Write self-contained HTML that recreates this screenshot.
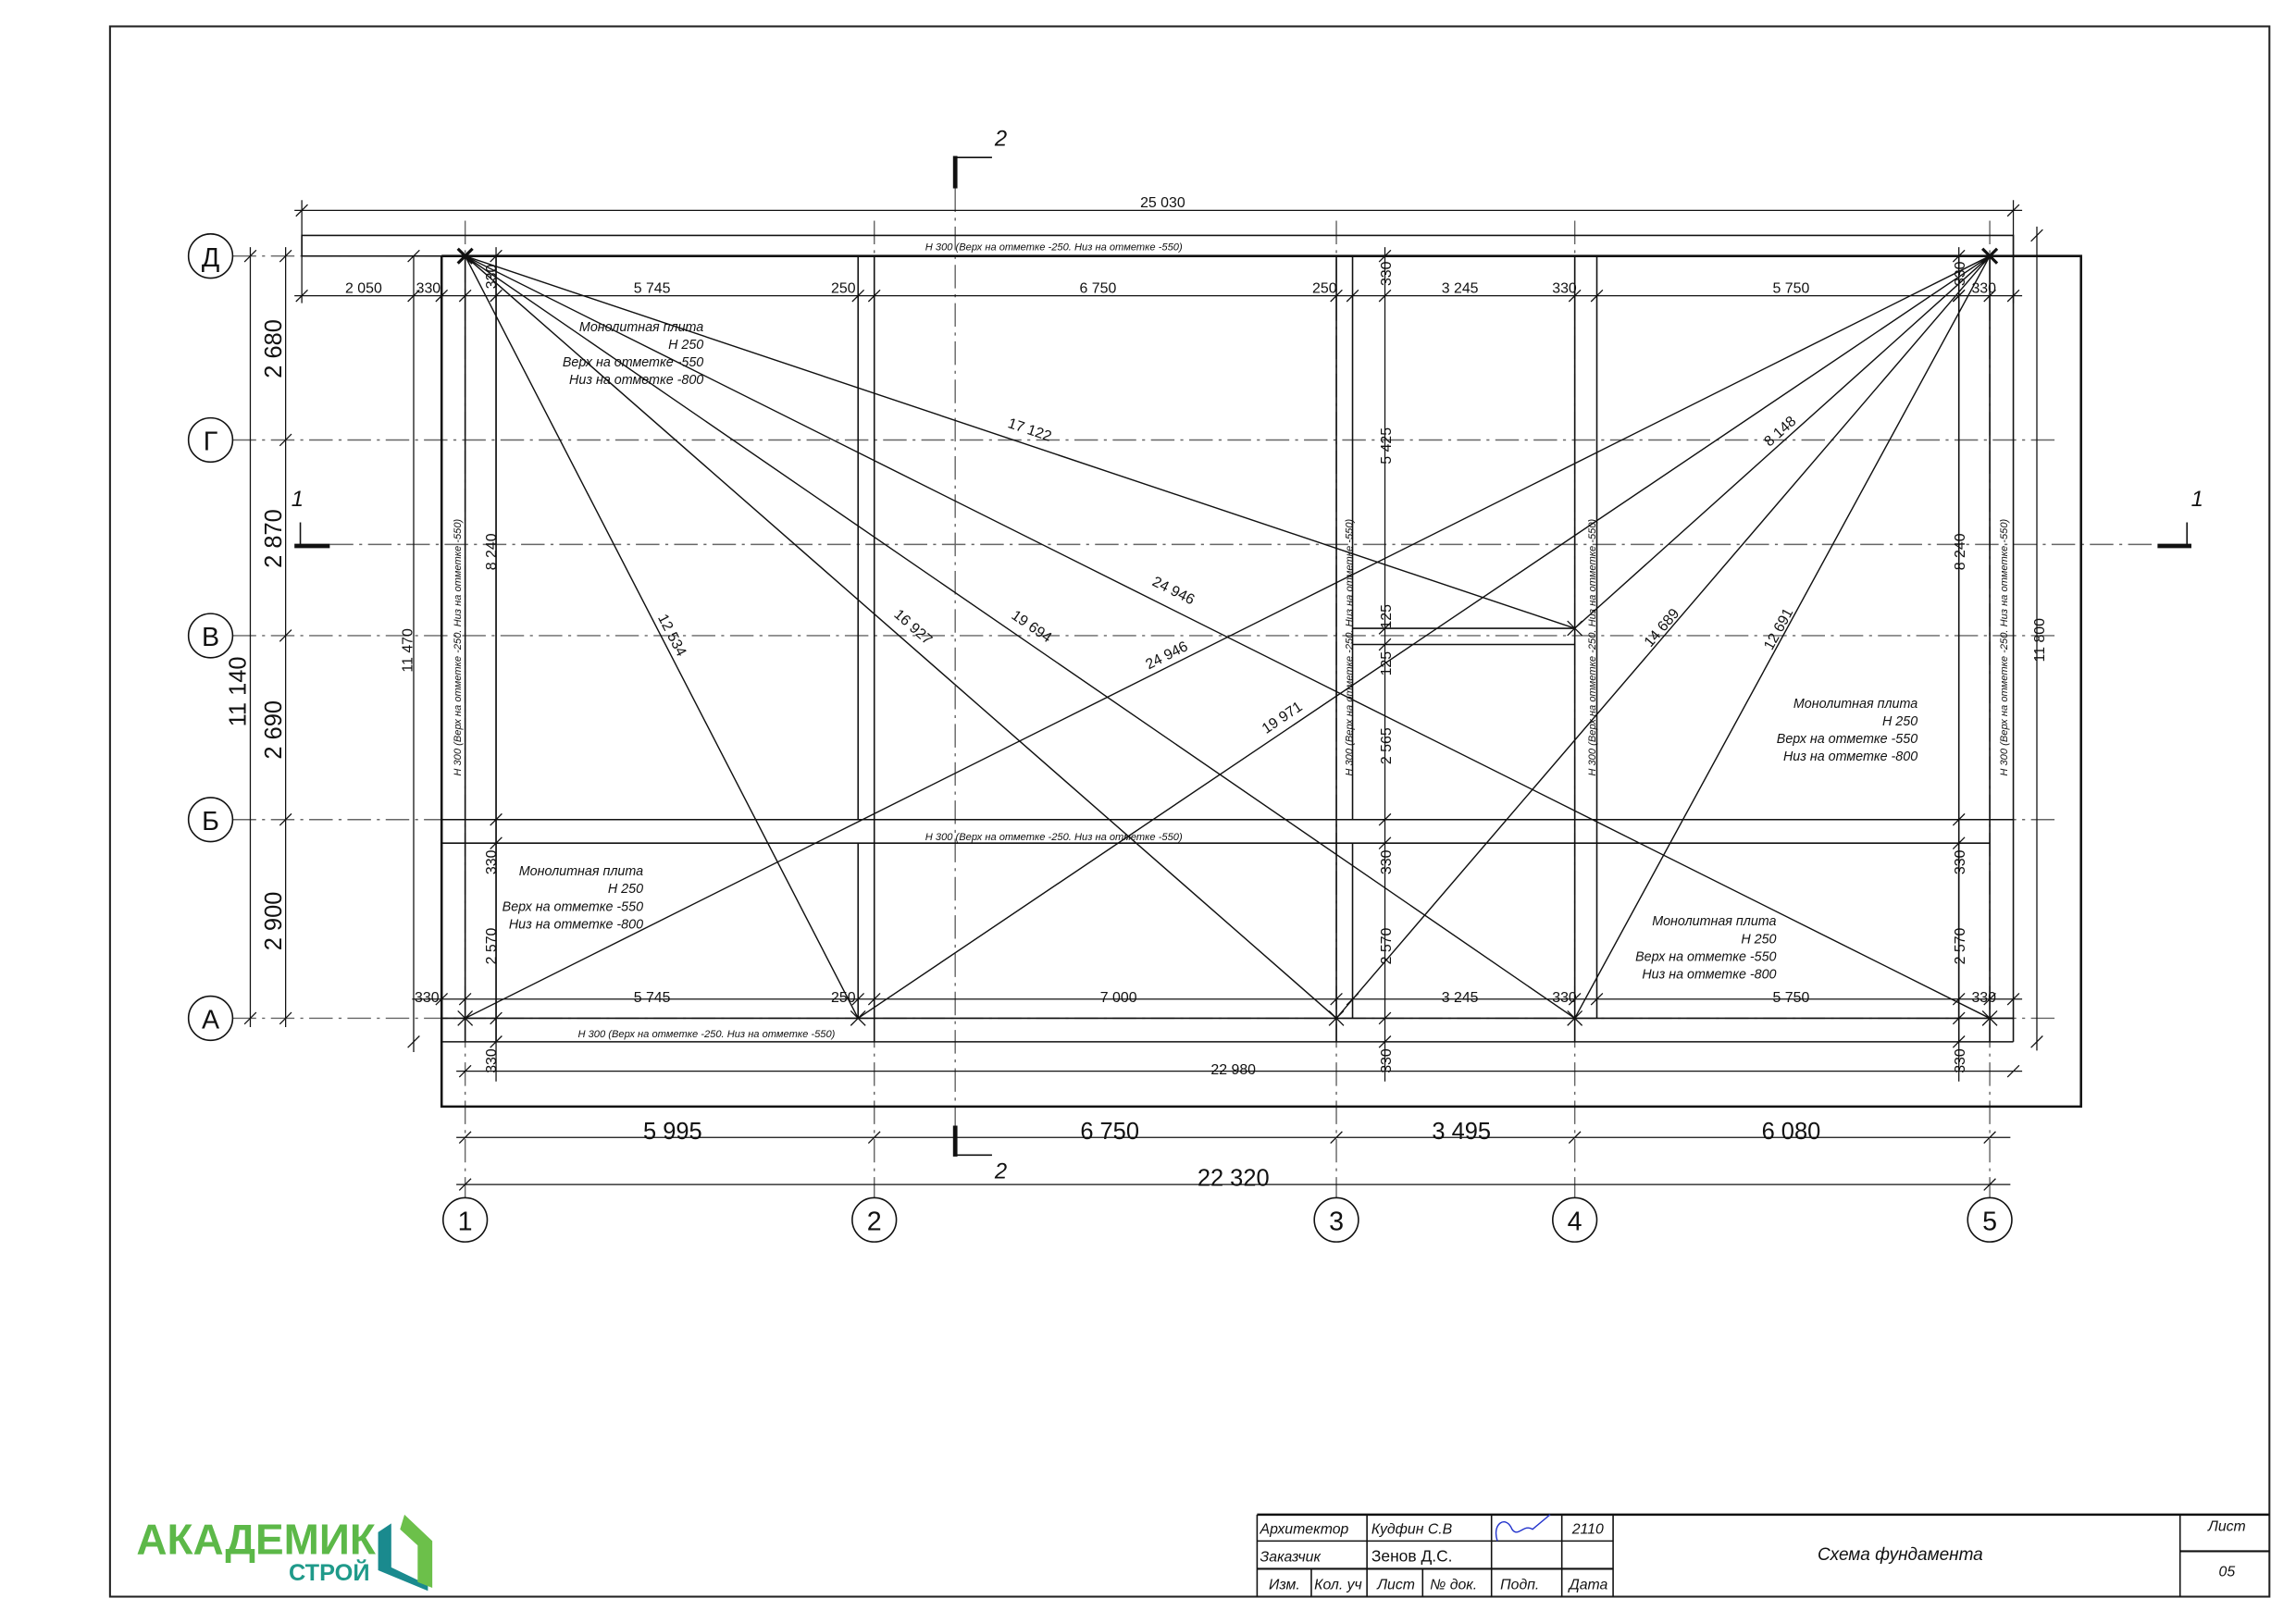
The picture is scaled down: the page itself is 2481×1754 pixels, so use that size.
<!DOCTYPE html>
<html><head><meta charset="utf-8"><style>
html,body{margin:0;padding:0;background:#fff}
svg{display:block}
text{font-family:"Liberation Sans",sans-serif;fill:#111}
.d{font-size:10px}
.i{font-size:9px;font-style:italic}
.s{font-size:7px;font-style:italic}
.b{font-size:16px}
</style></head><body>
<svg width="2481" height="1754" viewBox="0 0 1560 1103" xmlns="http://www.w3.org/2000/svg">
<rect x="0" y="0" width="1560" height="1103" fill="#fff"/>

<!-- axis dash-dot lines -->
<g stroke="#666" stroke-width="0.9" stroke-dasharray="16 4 2 4" fill="none">
<line x1="158" y1="174" x2="1400" y2="174"/>
<line x1="158" y1="299" x2="1400" y2="299"/>
<line x1="158" y1="432" x2="1400" y2="432"/>
<line x1="158" y1="557" x2="1400" y2="557"/>
<line x1="158" y1="692" x2="1400" y2="692"/>
<line x1="316" y1="150" x2="316" y2="815"/>
<line x1="594" y1="150" x2="594" y2="815"/>
<line x1="908" y1="150" x2="908" y2="815"/>
<line x1="1070" y1="150" x2="1070" y2="815"/>
<line x1="1352" y1="150" x2="1352" y2="815"/>
<line x1="224" y1="370" x2="1466" y2="370"/>
<line x1="649" y1="128" x2="649" y2="765"/>
</g>

<!-- structure -->
<g stroke="#111" stroke-width="1" fill="none">
<rect x="205" y="160" width="1163" height="14"/>
<polyline points="300,174 1414,174 1414,752 300,752 300,174" stroke-width="1.6"/>
<line x1="316" y1="174" x2="316" y2="708"/>
<line x1="337" y1="174" x2="337" y2="708"/>
<line x1="583" y1="174" x2="583" y2="557"/>
<line x1="594" y1="174" x2="594" y2="708"/>
<line x1="908" y1="174" x2="908" y2="708"/>
<line x1="919" y1="174" x2="919" y2="557"/>
<line x1="1070" y1="174" x2="1070" y2="708"/>
<line x1="1085" y1="174" x2="1085" y2="692"/>
<line x1="1331" y1="174" x2="1331" y2="708"/>
<line x1="1352" y1="174" x2="1352" y2="708"/>
<line x1="1368" y1="174" x2="1368" y2="708"/>
<line x1="300" y1="557" x2="1368" y2="557"/>
<line x1="300" y1="573" x2="1352" y2="573"/>
<line x1="300" y1="692" x2="1368" y2="692"/>
<line x1="300" y1="708" x2="1368" y2="708"/>
<line x1="919" y1="427" x2="1070" y2="427"/>
<line x1="919" y1="438" x2="1070" y2="438"/>
<line x1="583" y1="573" x2="583" y2="692"/>
<line x1="919" y1="573" x2="919" y2="692"/>
<line x1="1331" y1="573" x2="1331" y2="692"/>
</g>

<!-- diagonals -->
<g stroke="#111" stroke-width="0.9">
<line x1="316" y1="174" x2="583" y2="692"/>
<line x1="316" y1="174" x2="908" y2="692"/>
<line x1="316" y1="174" x2="1070" y2="692"/>
<line x1="316" y1="174" x2="1352" y2="692"/>
<line x1="316" y1="174" x2="1070" y2="427"/>
<line x1="1352" y1="174" x2="316" y2="692"/>
<line x1="1352" y1="174" x2="583" y2="692"/>
<line x1="1352" y1="174" x2="908" y2="692"/>
<line x1="1352" y1="174" x2="1070" y2="692"/>
<line x1="1352" y1="174" x2="1070" y2="427"/>
</g>
<g stroke="#111" stroke-width="2">
<line x1="311" y1="169" x2="321" y2="179"/><line x1="311" y1="179" x2="321" y2="169"/>
<line x1="1347" y1="169" x2="1357" y2="179"/><line x1="1347" y1="179" x2="1357" y2="169"/>
</g>
<g stroke="#111" stroke-width="0.8">
<line x1="311" y1="687" x2="321" y2="697"/><line x1="311" y1="697" x2="321" y2="687"/>
<line x1="578" y1="687" x2="588" y2="697"/><line x1="578" y1="697" x2="588" y2="687"/>
<line x1="903" y1="687" x2="913" y2="697"/><line x1="903" y1="697" x2="913" y2="687"/>
<line x1="1065" y1="687" x2="1075" y2="697"/><line x1="1065" y1="697" x2="1075" y2="687"/>
<line x1="1347" y1="687" x2="1357" y2="697"/><line x1="1347" y1="697" x2="1357" y2="687"/>
<line x1="1065" y1="422" x2="1075" y2="432"/><line x1="1065" y1="432" x2="1075" y2="422"/>
</g>

<!-- diagonal labels -->
<g class="d" text-anchor="middle">
<text transform="translate(452,434) rotate(62.7)" dy="-2">12 534</text>
<text transform="translate(617,430) rotate(41.2)" dy="-2">16 927</text>
<text transform="translate(698,430) rotate(34.5)" dy="-2">19 694</text>
<text transform="translate(795,406) rotate(26.6)" dy="-2">24 946</text>
<text transform="translate(698,297) rotate(18.5)" dy="-2">17 122</text>
<text transform="translate(795,450) rotate(-26.6)" dy="-2">24 946</text>
<text transform="translate(874,492) rotate(-34)" dy="-2">19 971</text>
<text transform="translate(1133,430) rotate(-49.4)" dy="-2">14 689</text>
<text transform="translate(1213,430) rotate(-61.4)" dy="-2">12 691</text>
<text transform="translate(1213,297) rotate(-41.9)" dy="-2">8 148</text>
</g>

<!-- dimension lines -->
<g stroke="#111" stroke-width="0.8" fill="none">
<line x1="200" y1="143" x2="1374" y2="143"/>
<line x1="200" y1="201" x2="1374" y2="201"/>
<line x1="280" y1="679" x2="1374" y2="679"/>
<line x1="310" y1="728" x2="1374" y2="728"/>
<line x1="310" y1="773" x2="1366" y2="773"/>
<line x1="310" y1="805" x2="1366" y2="805"/>
<line x1="170" y1="168" x2="170" y2="698"/>
<line x1="194" y1="168" x2="194" y2="698"/>
<line x1="281" y1="174" x2="281" y2="715"/>
<line x1="1384" y1="154" x2="1384" y2="714"/>
<line x1="941" y1="168" x2="941" y2="735"/>
<line x1="337" y1="168" x2="337" y2="735"/>
<line x1="1331" y1="168" x2="1331" y2="735"/>
<line x1="205" y1="136" x2="205" y2="206"/>
<line x1="1368" y1="136" x2="1368" y2="206"/>
</g>
<g stroke="#111" stroke-width="0.8">
<path d="M201 147L209 139M1364 147L1372 139"/>
<path d="M201 205L209 197M277 205L285 197M296 205L304 197M312 205L320 197M579 205L587 197M590 205L598 197M904 205L912 197M915 205L923 197M1066 205L1074 197M1081 205L1089 197M1327 205L1335 197M1348 205L1356 197M1364 205L1372 197"/>
<path d="M296 683L304 675M312 683L320 675M579 683L587 675M590 683L598 675M904 683L912 675M915 683L923 675M1066 683L1074 675M1081 683L1089 675M1327 683L1335 675M1348 683L1356 675M1364 683L1372 675"/>
<path d="M312 732L320 724M1364 732L1372 724M312 777L320 769M590 777L598 769M904 777L912 769M1066 777L1074 769M1348 777L1356 769M312 809L320 801M1348 809L1356 801"/>
<path d="M166 178L174 170M166 696L174 688M190 178L198 170M190 303L198 295M190 436L198 428M190 561L198 553M190 696L198 688M277 178L285 170M277 712L285 704M1380 164L1388 156M1380 712L1388 704"/>
<path d="M937 178L945 170M937 205L945 197M937 431L945 423M937 442L945 434M937 561L945 553M937 577L945 569M937 696L945 688M937 712L945 704"/>
<path d="M333 178L341 170M333 205L341 197M333 561L341 553M333 577L341 569M333 696L341 688M333 712L341 704"/>
<path d="M1327 178L1335 170M1327 205L1335 197M1327 561L1335 553M1327 577L1335 569M1327 696L1335 688M1327 712L1335 704"/>
</g>

<!-- dim texts -->
<g class="d" text-anchor="middle">
<text x="790" y="141">25 030</text>
<text x="247" y="199">2 050</text><text x="291" y="199">330</text>
<text x="443" y="199">5 745</text><text x="573" y="199">250</text>
<text x="746" y="199">6 750</text><text x="900" y="199">250</text>
<text x="992" y="199">3 245</text><text x="1063" y="199">330</text>
<text x="1217" y="199">5 750</text><text x="1348" y="199">330</text>
<text x="290" y="681">330</text><text x="443" y="681">5 745</text>
<text x="573" y="681">250</text><text x="760" y="681">7 000</text>
<text x="992" y="681">3 245</text><text x="1063" y="681">330</text>
<text x="1217" y="681">5 750</text><text x="1348" y="681">330</text>
<text x="838" y="730">22 980</text>
</g>
<g class="b" text-anchor="middle">
<text x="457" y="774">5 995</text><text x="754" y="774">6 750</text>
<text x="993" y="774">3 495</text><text x="1217" y="774">6 080</text>
<text x="838" y="806">22 320</text>
</g>
<g class="b" text-anchor="middle">
<text transform="translate(191,237) rotate(-90)">2 680</text>
<text transform="translate(191,366) rotate(-90)">2 870</text>
<text transform="translate(191,496) rotate(-90)">2 690</text>
<text transform="translate(191,626) rotate(-90)">2 900</text>
<text transform="translate(167,470) rotate(-90)">11 140</text>
</g>
<g class="d" text-anchor="middle">
<text transform="translate(280,442) rotate(-90)">11 470</text>
<text transform="translate(1389,435) rotate(-90)">11 800</text>
<text transform="translate(337,375) rotate(-90)">8 240</text>
<text transform="translate(1335,375) rotate(-90)">8 240</text>
<text transform="translate(945,303) rotate(-90)">5 425</text>
<text transform="translate(945,419) rotate(-90)">125</text>
<text transform="translate(945,451) rotate(-90)">125</text>
<text transform="translate(945,507) rotate(-90)">2 565</text>
<text transform="translate(337,188) rotate(-90)">330</text>
<text transform="translate(945,186) rotate(-90)">330</text>
<text transform="translate(1335,186) rotate(-90)">330</text>
<text transform="translate(337,586) rotate(-90)">330</text>
<text transform="translate(945,586) rotate(-90)">330</text>
<text transform="translate(1335,586) rotate(-90)">330</text>
<text transform="translate(337,643) rotate(-90)">2 570</text>
<text transform="translate(945,643) rotate(-90)">2 570</text>
<text transform="translate(1335,643) rotate(-90)">2 570</text>
<text transform="translate(337,721) rotate(-90)">330</text>
<text transform="translate(945,721) rotate(-90)">330</text>
<text transform="translate(1335,721) rotate(-90)">330</text>
</g>

<!-- beam labels -->
<g class="s" text-anchor="middle">
<text x="716" y="170">Н 300 (Верх на отметке -250. Низ на отметке -550)</text>
<text x="716" y="571">Н 300 (Верх на отметке -250. Низ на отметке -550)</text>
<text x="480" y="705">Н 300 (Верх на отметке -250. Низ на отметке -550)</text>
<text transform="translate(313,440) rotate(-90)">Н 300 (Верх на отметке -250. Низ на отметке -550)</text>
<text transform="translate(919,440) rotate(-90)">Н 300 (Верх на отметке -250. Низ на отметке -550)</text>
<text transform="translate(1084,440) rotate(-90)">Н 300 (Верх на отметке -250. Низ на отметке -550)</text>
<text transform="translate(1364,440) rotate(-90)">Н 300 (Верх на отметке -250. Низ на отметке -550)</text>
</g>

<!-- slab notes -->
<g class="i" text-anchor="end">
<text x="478" y="225">Монолитная плита</text><text x="478" y="237">Н 250</text>
<text x="478" y="249">Верх на отметке -550</text><text x="478" y="261">Низ на отметке -800</text>
<text x="437" y="595">Монолитная плита</text><text x="437" y="607">Н 250</text>
<text x="437" y="619">Верх на отметке -550</text><text x="437" y="631">Низ на отметке -800</text>
<text x="1303" y="481">Монолитная плита</text><text x="1303" y="493">Н 250</text>
<text x="1303" y="505">Верх на отметке -550</text><text x="1303" y="517">Низ на отметке -800</text>
<text x="1207" y="629">Монолитная плита</text><text x="1207" y="641">Н 250</text>
<text x="1207" y="653">Верх на отметке -550</text><text x="1207" y="665">Низ на отметке -800</text>
</g>

<!-- axis bubbles -->
<g fill="#fff" stroke="#111" stroke-width="1">
<circle cx="143" cy="174" r="15"/><circle cx="143" cy="299" r="15"/>
<circle cx="143" cy="432" r="15"/><circle cx="143" cy="557" r="15"/>
<circle cx="143" cy="692" r="15"/>
<circle cx="316" cy="829" r="15"/><circle cx="594" cy="829" r="15"/>
<circle cx="908" cy="829" r="15"/><circle cx="1070" cy="829" r="15"/>
<circle cx="1352" cy="829" r="15"/>
</g>
<g font-size="18" text-anchor="middle">
<text x="143" y="181">Д</text><text x="143" y="306">Г</text>
<text x="143" y="439">В</text><text x="143" y="564">Б</text>
<text x="143" y="699">А</text>
<text x="316" y="836">1</text><text x="594" y="836">2</text>
<text x="908" y="836">3</text><text x="1070" y="836">4</text>
<text x="1352" y="836">5</text>
</g>

<!-- section marks -->
<g stroke="#111" fill="none">
<line x1="649" y1="106" x2="649" y2="128" stroke-width="3"/>
<line x1="649" y1="107" x2="674" y2="107" stroke-width="1"/>
<line x1="649" y1="765" x2="649" y2="786" stroke-width="3"/>
<line x1="649" y1="785" x2="674" y2="785" stroke-width="1"/>
<line x1="200" y1="371" x2="224" y2="371" stroke-width="3"/>
<line x1="204" y1="355" x2="204" y2="370" stroke-width="1"/>
<line x1="1466" y1="371" x2="1489" y2="371" stroke-width="3"/>
<line x1="1486" y1="355" x2="1486" y2="370" stroke-width="1"/>
</g>
<g font-size="15" font-style="italic" text-anchor="middle">
<text x="680" y="99">2</text><text x="680" y="801">2</text>
<text x="202" y="344">1</text><text x="1493" y="344">1</text>
</g>

<g transform="scale(0.9955)">
<!-- frame -->
<rect x="75" y="18" width="1474" height="1072" fill="none" stroke="#222" stroke-width="1.3"/>
<!-- title block -->
<g stroke="#111" fill="none" stroke-width="1">
<line x1="858" y1="1034" x2="1549" y2="1034" stroke-width="1.6"/>
<line x1="858" y1="1034" x2="858" y2="1090"/>
<line x1="858" y1="1052" x2="1101" y2="1052"/>
<line x1="858" y1="1071" x2="1101" y2="1071" stroke-width="1.4"/>
<line x1="933" y1="1034" x2="933" y2="1090"/>
<line x1="895" y1="1071" x2="895" y2="1090"/>
<line x1="971" y1="1071" x2="971" y2="1090"/>
<line x1="1018" y1="1034" x2="1018" y2="1090"/>
<line x1="1066" y1="1034" x2="1066" y2="1090"/>
<line x1="1101" y1="1034" x2="1101" y2="1090"/>
<line x1="1488" y1="1034" x2="1488" y2="1090"/>
<line x1="1488" y1="1059" x2="1549" y2="1059" stroke-width="1.4"/>
<path d="M1022 1052 C1018 1040 1028 1034 1032 1044 C1036 1050 1040 1040 1046 1044 L1058 1034" stroke="#2233cc" stroke-width="0.9"/>
</g>
<g font-size="10" font-style="italic">
<text x="860" y="1047">Архитектор</text><text x="936" y="1047">Кудфин С.В</text>
<text x="1073" y="1047">2110</text>
<text x="860" y="1066">Заказчик</text><text x="936" y="1066" font-style="normal" font-size="11">Зенов Д.С.</text>
<text x="866" y="1085">Изм.</text><text x="897" y="1085">Кол. уч</text>
<text x="940" y="1085">Лист</text><text x="976" y="1085">№ док.</text>
<text x="1024" y="1085">Подп.</text><text x="1071" y="1085">Дата</text>
<text x="1520" y="1045" text-anchor="middle">Лист</text>
<text x="1520" y="1076" text-anchor="middle">05</text>
<text x="1297" y="1065" text-anchor="middle" font-size="12">Схема фундамента</text>
</g>
<!-- logo -->
<text x="93" y="1061" font-size="29" font-weight="bold" style="fill:#5cb848">АКАДЕМИК</text>
<text x="197" y="1079" font-size="16" font-weight="bold" style="fill:#1f9a8a">СТРОЙ</text>
<polygon points="258,1046 267,1040 267,1070 292,1082 292,1086 258,1072" fill="#1a8a8e"/>
<polygon points="276,1034 295,1052 295,1084 285,1080 285,1055 273,1044" fill="#6cc04a"/>
</g>
</svg>
</body></html>
